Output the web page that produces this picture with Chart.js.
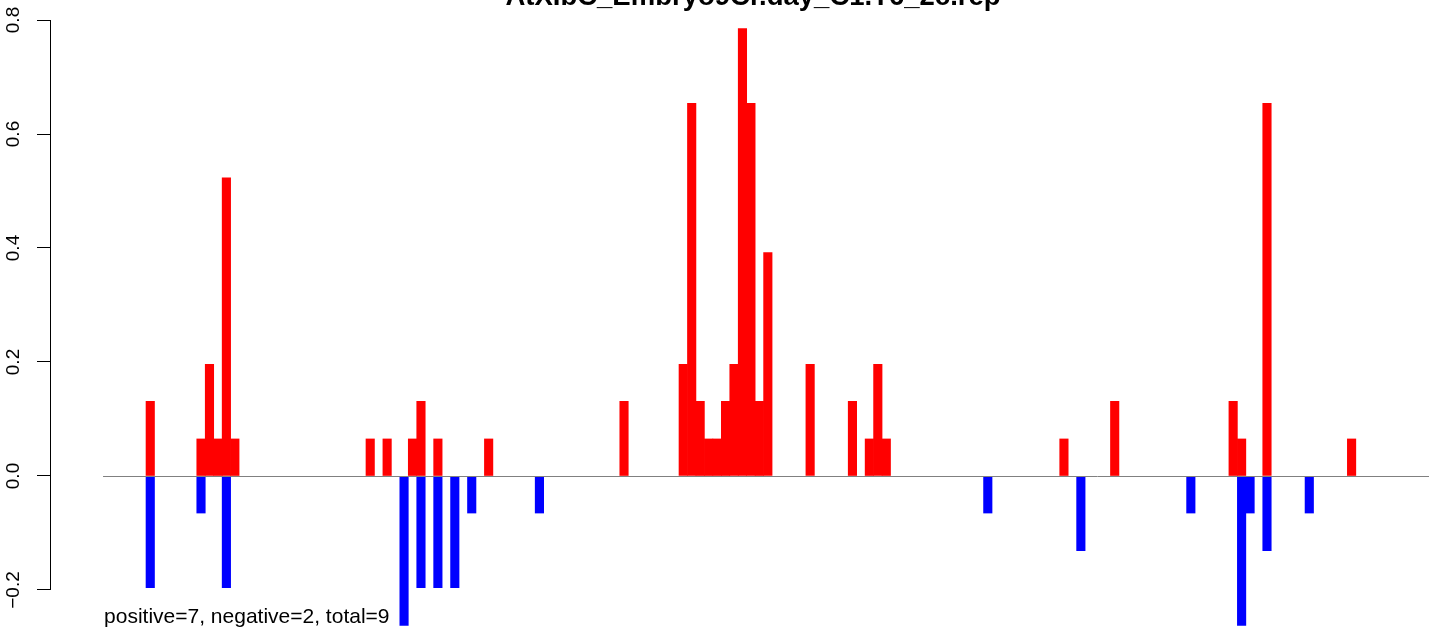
<!DOCTYPE html>
<html>
<head>
<meta charset="utf-8">
<script src="https://cdn.jsdelivr.net/npm/chart.js@4.4.0/dist/chart.umd.min.js"></script>
<style>
  html, body { margin: 0; padding: 0; background: #fff; }
  #wrap { width: 1429px; height: 630px; }
</style>
</head>
<body>
<div id="wrap"><canvas id="chart" width="1429" height="630"></canvas></div>
<script>
// bars sit on consecutive bins, first bar = bin 0
const upBins = [0, 6, 7, 8, 9, 10, 26, 28, 31, 32, 34, 40, 56, 63, 64, 65, 66, 67, 68, 69, 70, 71, 72, 73, 78, 83, 85, 86, 87, 108, 114, 128, 129, 132, 142];
const upValues = [0.131, 0.065, 0.196, 0.065, 0.523, 0.065, 0.065, 0.065, 0.065, 0.131, 0.065, 0.065, 0.131, 0.196, 0.654, 0.131, 0.065, 0.065, 0.131, 0.196, 0.785, 0.654, 0.131, 0.392, 0.196, 0.131, 0.065, 0.196, 0.065, 0.065, 0.131, 0.131, 0.065, 0.654, 0.065];
const downBins = [0, 6, 9, 30, 32, 34, 36, 38, 46, 99, 110, 123, 129, 130, 132, 137];
const downValues = [-0.196, -0.065, -0.196, -0.262, -0.196, -0.196, -0.196, -0.065, -0.065, -0.065, -0.131, -0.065, -0.262, -0.065, -0.131, -0.065];
const yTicks = [-0.2, 0, 0.2, 0.4, 0.6, 0.8];

const titleText = 'AtXIbC_Embryo9Cr.day_C1.T6_2c.rep';
const noteText = 'positive=7, negative=2, total=9';

// visible window (the figure is cropped on top, bottom and right)
const xMin = -11.85, xMax = 151.15, zeroLineFrom = -5.58;
const yMin = -0.2702, yMax = 0.8351;

const toPoints = (bins, vals) => bins.map((b, i) => ({ x: b, y: vals[i] }));

// --- R-style axis, zero line and texts ---
const rStyle = {
    id: 'rStyle',
    afterDatasetsDraw(chart) {
        const { ctx, chartArea, scales: { x, y } } = chart;
        ctx.save();
        const y0 = Math.round(y.getPixelForValue(0)) + 0.5;
        ctx.strokeStyle = '#808080';
        ctx.lineWidth = 1;
        ctx.beginPath();
        ctx.moveTo(x.getPixelForValue(zeroLineFrom), y0);
        ctx.lineTo(chartArea.right, y0);
        ctx.stroke();
        ctx.restore();
    },
    afterDraw(chart) {
        const { ctx, chartArea, scales: { x, y } } = chart;
        ctx.save();
        // y axis line only between first and last tick
        const ax = Math.round(chartArea.left) + 0.5;
        ctx.strokeStyle = '#000';
        ctx.lineWidth = 1;
        ctx.beginPath();
        ctx.moveTo(ax, y.getPixelForValue(yTicks[0]));
        ctx.lineTo(ax, y.getPixelForValue(yTicks[yTicks.length - 1]));
        ctx.stroke();

        // rotated tick labels
        ctx.fillStyle = '#000';
        ctx.font = "19px 'Liberation Sans', Arial, sans-serif";
        ctx.textAlign = 'center';
        ctx.textBaseline = 'alphabetic';
        yTicks.forEach(v => {
            ctx.save();
            ctx.translate(18.5, y.getPixelForValue(v));
            ctx.rotate(-Math.PI / 2);
            ctx.fillText(v.toFixed(1).replace('-', '\u2212'), 0, 0);
            ctx.restore();
        });

        // title, mostly cut off by the top edge
        ctx.font = "bold 27.5px 'Liberation Sans', Arial, sans-serif";
        ctx.textAlign = 'center';
        ctx.fillText(titleText, 753, 4.5);

        // counts note
        ctx.font = "21px 'Liberation Sans', Arial, sans-serif";
        ctx.textAlign = 'left';
        ctx.fillText(noteText, x.getPixelForValue(zeroLineFrom) + 1, 623);
        ctx.restore();
    }
};

new Chart(document.getElementById('chart'), {
    type: 'bar',
    data: {
        datasets: [
            { label: 'positive', data: toPoints(upBins, upValues), backgroundColor: '#ff0000' },
            { label: 'negative', data: toPoints(downBins, downValues), backgroundColor: '#0000ff' }
        ]
    },
    options: {
        responsive: false,
        animation: false,
        layout: { padding: 0 },
        datasets: {
            bar: { barPercentage: 1, categoryPercentage: 1, borderWidth: 0 }
        },
        plugins: {
            legend: { display: false },
            tooltip: { enabled: false }
        },
        scales: {
            x: {
                type: 'linear',
                display: false,
                stacked: true,
                offset: false,
                min: xMin,
                max: xMax
            },
            y: {
                stacked: true,
                min: yMin,
                max: yMax,
                afterFit: s => { s.width = 50; },
                afterBuildTicks: s => { s.ticks = yTicks.map(v => ({ value: v })); },
                ticks: { display: false },
                border: { display: false },
                grid: {
                    drawOnChartArea: false,
                    drawTicks: true,
                    tickLength: 13,
                    color: '#000',
                    lineWidth: 1
                }
            }
        }
    },
    plugins: [rStyle]
});
</script>
</body>
</html>
